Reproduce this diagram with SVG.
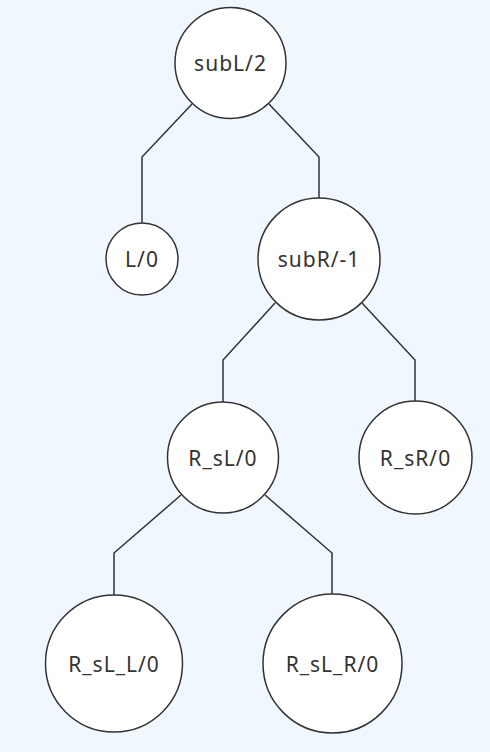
<svg xmlns="http://www.w3.org/2000/svg" width="490" height="752" viewBox="0 0 490 752">
<style>
.n circle{fill:#fff;stroke:#333;stroke-width:1.5}
.n text{font-family:"Noto Sans","DejaVu Sans",sans-serif;font-size:21px;letter-spacing:1px;fill:#333;text-anchor:middle;dominant-baseline:central}
.e path{fill:none;stroke:#333;stroke-width:1.5}
</style>
<rect width="490" height="752" fill="#f0f7fe"/>
<g class="e" id="edges">
<path d="M192,104 L142,157 L142,223"/>
<path d="M269,104 L319,157 L319,198"/>
<path d="M275,303 L223,360 L223,402"/>
<path d="M362,303 L415,360 L415,401"/>
<path d="M181,495 L114,553 L114,595"/>
<path d="M265,495 L332,553 L332,594"/>
</g>
<g class="n" id="subL"><circle cx="230.5" cy="63" r="55.5"/><text x="230.5" y="63">subL/2</text></g>
<g class="n" id="L"><circle cx="142" cy="259" r="36"/><text x="142" y="259">L/0</text></g>
<g class="n" id="subR"><circle cx="319" cy="259" r="61"/><text x="319" y="259">subR/-1</text></g>
<g class="n" id="R_sL"><circle cx="223" cy="457.5" r="55.5"/><text x="223" y="457.5">R_sL/0</text></g>
<g class="n" id="R_sR"><circle cx="415.5" cy="457.5" r="56.5"/><text x="415.5" y="457.5">R_sR/0</text></g>
<g class="n" id="R_sL_L"><circle cx="114" cy="663.5" r="68.5"/><text x="114" y="663.5">R_sL_L/0</text></g>
<g class="n" id="R_sL_R"><circle cx="332.5" cy="663.5" r="69.5"/><text x="332.5" y="663.5">R_sL_R/0</text></g>
</svg>
